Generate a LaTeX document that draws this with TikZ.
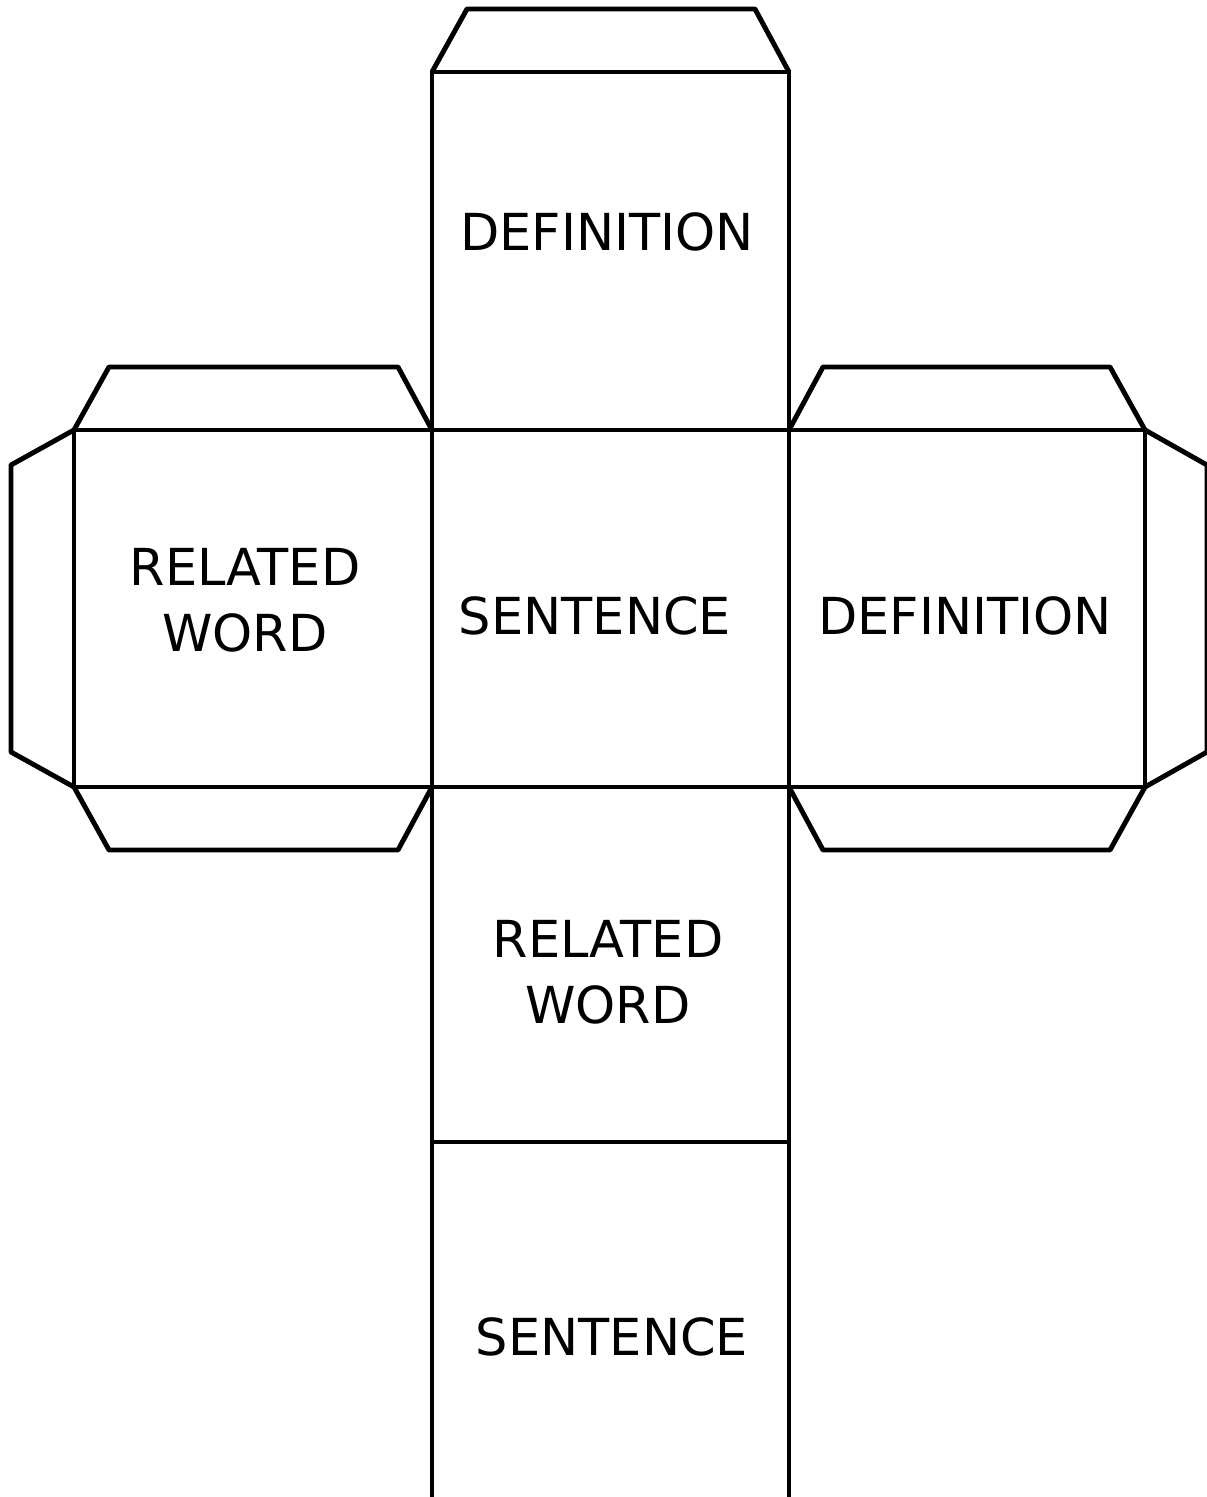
\documentclass[tikz,border=0pt]{standalone}
\usepackage{fontspec}
\setmainfont{DejaVu Sans}

\begin{document}
\begin{tikzpicture}[x=0.01cm, y=-0.01cm, line join=round,
    edge/.style={draw=black, line width=1.4pt},
    face/.style={font=\fontsize{14.5}{18.8}\selectfont, align=center, inner sep=0pt}]

        \useasboundingbox (0,0) rectangle (1207,1497);

        % central column of faces
        \draw[edge] (432,1497) -- (432,72) -- (789,72) -- (789,1497);
        \draw[edge] (432,430) -- (789,430);
        \draw[edge] (432,787) -- (789,787);
        \draw[edge] (432,1142) -- (789,1142);

        % top flap
        \draw[edge] (432,72) -- (467,9) -- (755,9) -- (789,72);

        % left face with its flaps
        \draw[edge] (74,430) rectangle (432,787);
        \draw[edge] (74,430) -- (109,367) -- (398,367) -- (432,430);
        \draw[edge] (74,787) -- (109,850) -- (398,850) -- (432,787);
        \draw[edge] (74,430) -- (11,465) -- (11,752) -- (74,787);

        % right face with its flaps
        \draw[edge] (789,430) rectangle (1145,787);
        \draw[edge] (789,430) -- (823,367) -- (1110,367) -- (1145,430);
        \draw[edge] (789,787) -- (823,850) -- (1110,850) -- (1145,787);
        \draw[edge] (1145,430) -- (1207,465) -- (1207,752) -- (1145,787);

        % labels
        \node[face] (def1) at (607,232) {DEFINITION};
        \node[face] (rel1) at (245,600) {RELATED\\WORD};
        \node[face] (sen1) at (595,616) {SENTENCE};
        \node[face] (def2) at (965,616) {DEFINITION};
        \node[face] (rel2) at (608,972) {RELATED\\WORD};
        \node[face] (sen2) at (612,1337) {SENTENCE};

    \end{tikzpicture}
\end{document}
